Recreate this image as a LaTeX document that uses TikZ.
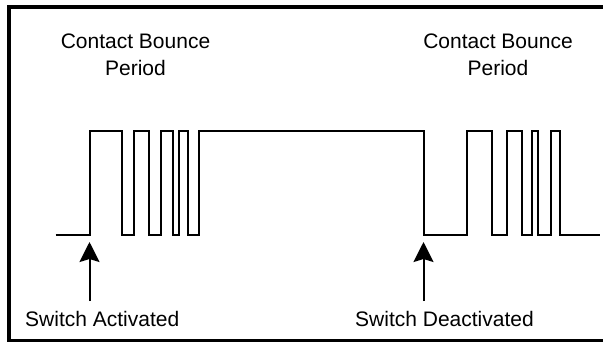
\documentclass[tikz,border=0pt]{standalone}
\usepackage{fontspec}
\setmainfont{Liberation Sans}
\usetikzlibrary{arrows.meta}
\begin{document}
\begin{tikzpicture}[x=1pt,y=-1pt,
  lbl/.style={inner sep=0pt,font=\fontsize{21}{26.7}\selectfont,text=black},
  wave/.style={line width=2pt,line join=miter},
  marker/.style={line width=2pt,-{Stealth[length=20pt,width=20pt,inset=3pt]}},
  frame/.style={line width=3.6pt}]
\useasboundingbox (0,0) rectangle (603,341);
\clip (0,0) rectangle (603,341);
\draw[frame] (9,7) rectangle (612,341);
% labels
\node[lbl,anchor=base] (cb1a) at (135.5,48.3) {Contact Bounce};
\node[lbl,anchor=base] (cb1b) at (135.5,75) {Period};
\node[lbl,anchor=base] (cb2a) at (498,48.3) {Contact Bounce};
\node[lbl,anchor=base] (cb2b) at (498,75) {Period};
\node[lbl,anchor=base west] (sa) at (25,326.7) {Switch Activated};
\node[lbl,anchor=base west] (sd) at (355,326.7) {Switch Deactivated};
% waveform
\draw[wave] (55.7,235) -- (90,235) -- (90,131) -- (121.7,131) -- (121.7,235)
  -- (134,235) -- (134,131) -- (149,131) -- (149,235)
  -- (160.7,235) -- (160.7,131) -- (172.7,131) -- (172.7,235)
  -- (179.3,235) -- (179.3,131) -- (188.3,131) -- (188.3,235)
  -- (199.3,235) -- (199.3,131) -- (424,131) -- (424,235)
  -- (466.7,235) -- (466.7,131) -- (492.3,131) -- (492.3,235)
  -- (506.7,235) -- (506.7,131) -- (521.7,131) -- (521.7,235)
  -- (531.7,235) -- (531.7,131) -- (538.3,131) -- (538.3,235)
  -- (550.7,235) -- (550.7,131) -- (560,131) -- (560,235) -- (600,235);
% arrows
\coordinate (a1tail) at (89.5,301);
\coordinate (a1tip) at (89.5,242);
\coordinate (a2tail) at (423.5,301);
\coordinate (a2tip) at (423.5,242);
\draw[marker] (a1tail) -- (a1tip);
\draw[marker] (a2tail) -- (a2tip);
\end{tikzpicture}
\end{document}
